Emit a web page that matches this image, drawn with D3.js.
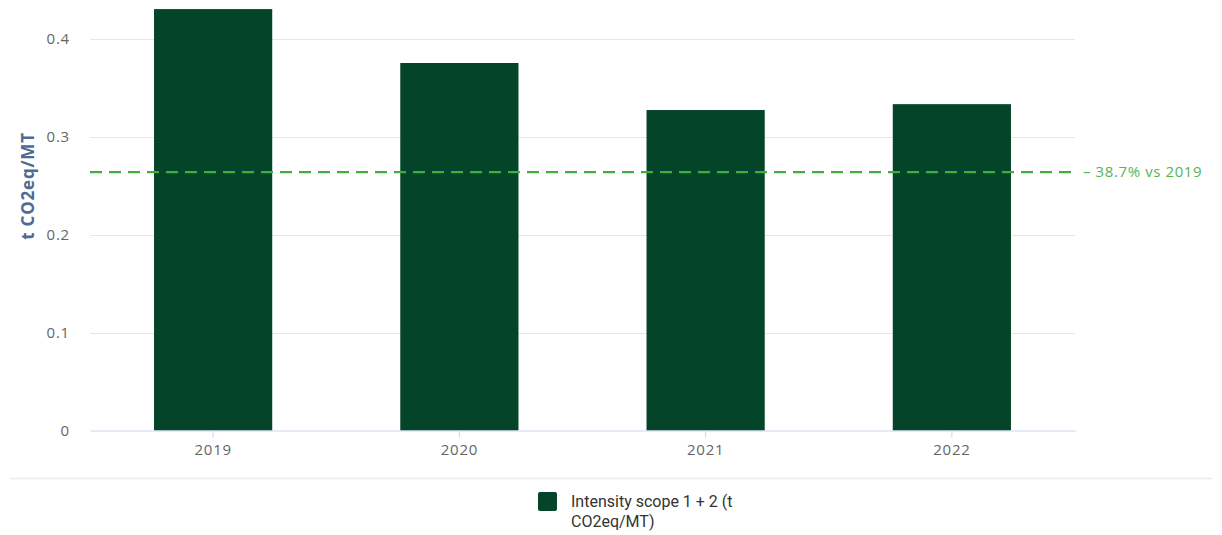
<!DOCTYPE html>
<html>
<head>
<meta charset="utf-8">
<script src="https://cdn.jsdelivr.net/npm/d3@7"></script>
<style>
  html, body { margin: 0; padding: 0; background: #ffffff; }
  svg { display: block; }
</style>
</head>
<body>
<svg id="chart" width="1222" height="535"></svg>
<script>
// Carbon intensity, scope 1 + 2 (t CO2eq per metric ton)
const years = ["2019", "2020", "2021", "2022"];
const intensity = [0.43, 0.375, 0.327, 0.333];
const yTicks = [0, 0.1, 0.2, 0.3, 0.4];
const reductionPct = 38.7;                       // target reduction vs 2019
const targetLabel = "– 38.7% vs 2019";
const seriesName = ["Intensity scope 1 + 2 (t", "CO2eq/MT)"];
const yTitle = "t CO2eq/MT";

const W = 1222, H = 535;
const margin = { top: 0, left: 90, right: 1075, bottom: 430.5 };
const svg = d3.select("#chart");

const x = d3.scaleBand().domain(years).range([margin.left, margin.right]).paddingInner(0.52).paddingOuter(0.26);
const y = d3.scaleLinear().domain([0, 0.4]).range([margin.bottom, margin.bottom - 392]);

const barColor = "#044428";
const targetColor = "#3fae3a";
const font = "'Open Sans', 'DejaVu Sans', sans-serif";

// gridlines
svg.append("g").selectAll("line").data(yTicks.filter(d => d > 0)).join("line")
  .attr("x1", margin.left).attr("x2", margin.right)
  .attr("y1", d => Math.round(y(d)) + 0.5).attr("y2", d => Math.round(y(d)) + 0.5)
  .attr("stroke", "#e6e6e6").attr("stroke-width", 1);

// y tick labels
svg.append("g").selectAll("text").data(yTicks).join("text")
  .attr("x", 70).attr("y", d => y(d)).attr("dy", "0.35em")
  .attr("text-anchor", "end")
  .attr("font-family", font).attr("font-size", 15).attr("letter-spacing", 0.8).attr("fill", "#666666")
  .text(d => d === 0 ? "0" : d3.format(".1f")(d));

// y axis title
svg.append("text")
  .attr("transform", "translate(34,186) rotate(-90)")
  .attr("text-anchor", "middle")
  .attr("font-family", font).attr("font-size", 17).attr("font-weight", "bold").attr("letter-spacing", 0.8)
  .attr("fill", "#4f6a94")
  .text(yTitle);

// bars
svg.append("g").selectAll("rect").data(years.map((k, i) => ({ k, v: intensity[i] }))).join("rect")
  .attr("x", d => x(d.k)).attr("width", x.bandwidth())
  .attr("y", d => y(d.v)).attr("height", d => y(0) - y(d.v))
  .attr("fill", barColor);

// x axis
const xAxis = d3.axisBottom(x).tickSize(7).tickSizeOuter(0);
const gx = svg.append("g").attr("transform", `translate(0,${margin.bottom})`).call(xAxis);
gx.select(".domain").attr("stroke", "#ccd6eb");
gx.selectAll(".tick line").attr("stroke", "#ccd6eb");
gx.selectAll(".tick text").attr("font-family", font).attr("font-size", 15).attr("letter-spacing", 0.8)
  .attr("fill", "#666666").attr("dy", "0.95em");

// target line: reduction relative to 2019
const target = intensity[0] * (1 - reductionPct / 100);
svg.append("line")
  .attr("x1", margin.left).attr("x2", margin.right)
  .attr("y1", y(target)).attr("y2", y(target))
  .attr("stroke", targetColor).attr("stroke-width", 2.2)
  .attr("stroke-dasharray", "12,7");
svg.append("text")
  .attr("x", 1083).attr("y", y(target)).attr("dy", "0.35em")
  .attr("font-family", font).attr("font-size", 15).attr("letter-spacing", 0.6).attr("fill", "#55b455")
  .text(targetLabel);

// separator above legend
svg.append("line")
  .attr("x1", 10).attr("x2", 1212).attr("y1", 478.5).attr("y2", 478.5)
  .attr("stroke", "#ececec").attr("stroke-width", 1.5);

// legend
svg.append("rect").attr("x", 538).attr("y", 492).attr("width", 19).attr("height", 19)
  .attr("rx", 2).attr("fill", barColor);
svg.append("g").selectAll("text").data(seriesName).join("text")
  .attr("x", 571).attr("y", (d, i) => 507 + i * 20)
  .attr("font-family", "Roboto, 'Open Sans', sans-serif").attr("font-size", 16).attr("fill", "#333333")
  .text(d => d);
</script>
</body>
</html>
